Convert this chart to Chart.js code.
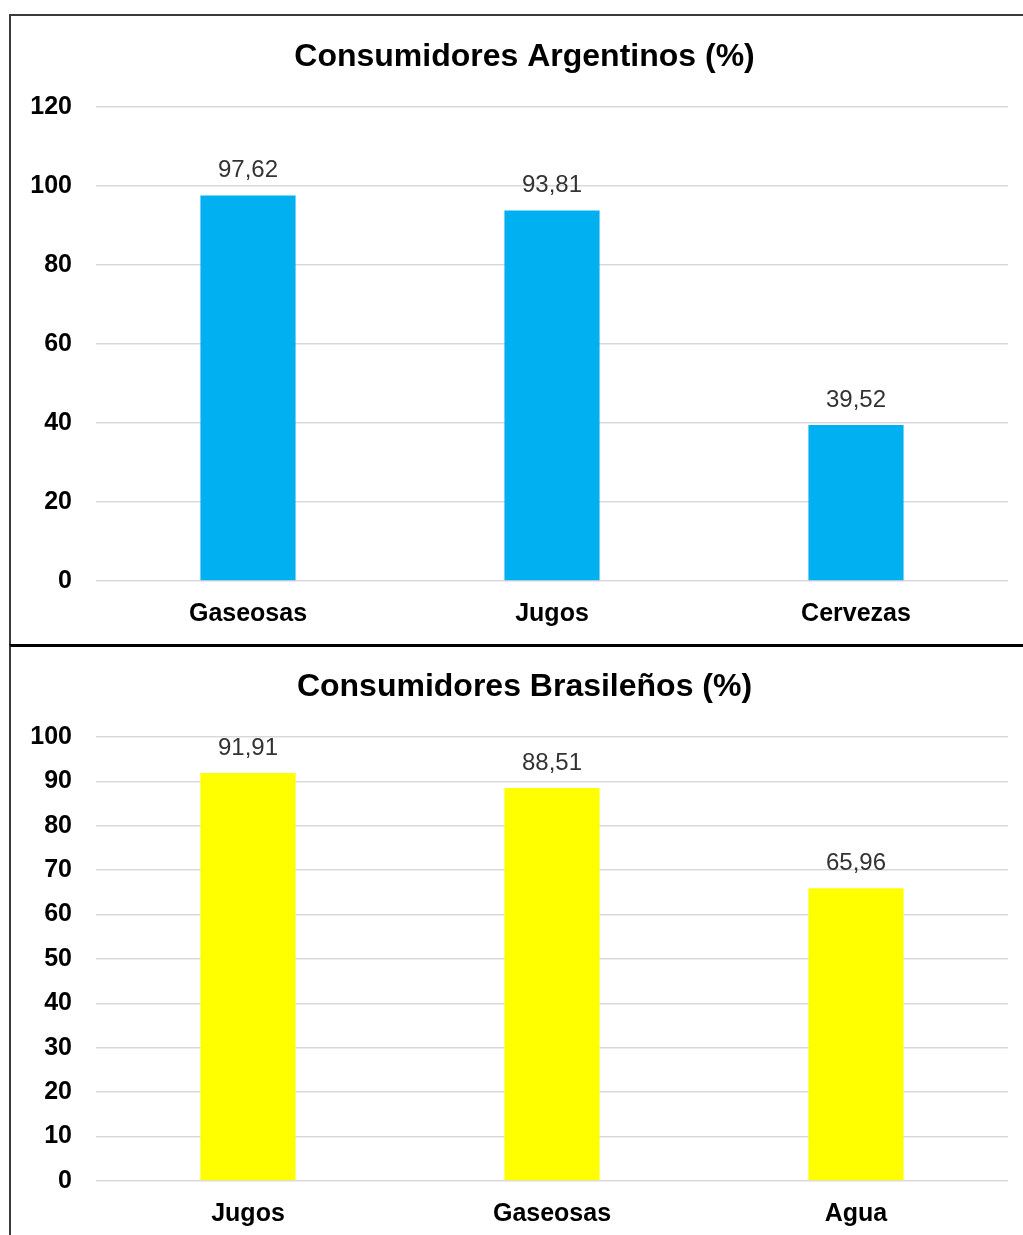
<!DOCTYPE html>
<html>
<head>
<meta charset="utf-8">
<script src="https://cdn.jsdelivr.net/npm/chart.js@4"></script>
<style>
  body { margin: 0; background: #fff; width: 1023px; height: 1235px; overflow: hidden; position: relative; }
  .box { position: absolute; left: 9px; border-left: 2px solid #3a3a3a; }
  #box1 { top: 14px; height: 630px; width: 1030px; border-top: 2px solid #3a3a3a; }
  #box2 { top: 644px; height: 600px; width: 1030px; border-top: 3px solid #000; }
  .wrap { position: absolute; left: 12px; width: 1025px; }
  #w1 { top: 16px; height: 628px; }
  #w2 { top: 648px; height: 587px; }
</style>
</head>
<body>
<div class="box" id="box1"></div>
<div class="box" id="box2"></div>
<div class="wrap" id="w1"><canvas id="chartAr"></canvas></div>
<div class="wrap" id="w2"><canvas id="chartBr"></canvas></div>
<script>
const categoriasAr = ['Gaseosas', 'Jugos', 'Cervezas'];
const valoresAr = [97.62, 93.81, 39.52];
const categoriasBr = ['Jugos', 'Gaseosas', 'Agua'];
const valoresBr = [91.91, 88.51, 65.96];

const FONT = 'Arial, "Liberation Sans", sans-serif';

// etiquetas de valor encima de cada barra, con coma decimal
const valueLabels = {
    id: 'valueLabels',
    afterDatasetsDraw(chart) {
        const ctx = chart.ctx;
        ctx.save();
        ctx.font = '24px ' + FONT;
        ctx.fillStyle = '#333';
        ctx.textAlign = 'center';
        ctx.textBaseline = 'alphabetic';
        chart.getDatasetMeta(0).data.forEach((bar, i) => {
            const v = chart.data.datasets[0].data[i];
            ctx.fillText(v.toFixed(2).replace('.', ','), bar.x, bar.y - 18);
        });
        ctx.restore();
    }
};

function makeChart(id, titulo, labels, data, color, max, step, titleTop, xHeight) {
    return new Chart(document.getElementById(id), {
        type: 'bar',
        data: {
            labels: labels,
            datasets: [{
                data: data,
                backgroundColor: color,
                categoryPercentage: 1,
                barPercentage: 0.313
            }]
        },
        options: {
            responsive: true,
            maintainAspectRatio: false,
            animation: false,
            layout: { padding: 0 },
            plugins: {
                legend: { display: false },
                tooltip: { enabled: false },
                title: {
                    display: true,
                    text: titulo,
                    color: '#000',
                    font: { family: FONT, size: 32, weight: 'bold' },
                    padding: { top: titleTop, bottom: 30.6 }
                }
            },
            scales: {
                x: {
                    grid: { display: false, drawTicks: false },
                    border: { display: false },
                    ticks: { color: '#000', padding: 18, font: { family: FONT, size: 25, weight: 'bold' } },
                    afterFit: s => { s.height = xHeight; }
                },
                y: {
                    min: 0,
                    max: max,
                    grid: { color: '#d9d9d9', lineWidth: 1.5, drawTicks: false },
                    border: { display: false },
                    ticks: { stepSize: step, color: '#000', padding: 24, font: { family: FONT, size: 25, weight: 'bold' } },
                    afterFit: s => { s.width = 84; }
                },
                // eje vacío a la derecha: solo reserva margen sin mover el título
                margen: {
                    position: 'right',
                    min: 0,
                    max: max,
                    grid: { display: false, drawTicks: false },
                    border: { display: false },
                    ticks: { display: false },
                    afterFit: s => { s.width = 29; }
                }
            }
        },
        plugins: [valueLabels]
    });
}

makeChart('chartAr', 'Consumidores Argentinos (%)', categoriasAr, valoresAr, '#00b0f0', 120, 20, 22, 63);
makeChart('chartBr', 'Consumidores Brasileños (%)', categoriasBr, valoresBr, '#ffff00', 100, 10, 20, 54);
</script>
</body>
</html>
